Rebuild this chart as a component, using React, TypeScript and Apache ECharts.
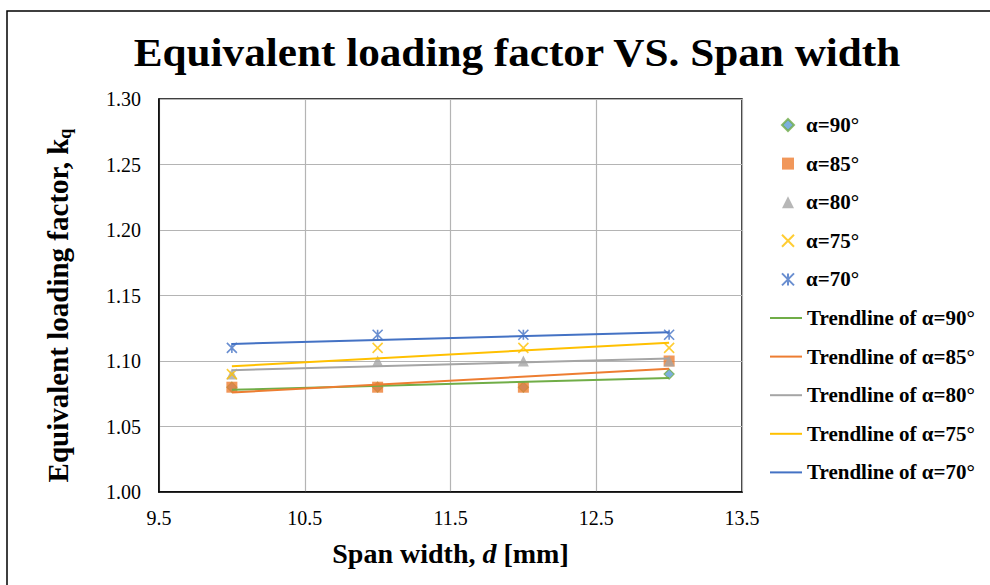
import React, { useEffect, useRef } from "react";
import * as echarts from "echarts";

const spanWidths = [10, 11, 12, 13];
const alpha90 = [1.08, 1.08, 1.08, 1.09];
const alpha85 = [1.08, 1.08, 1.08, 1.1];
const alpha80 = [1.09, 1.1, 1.1, 1.1];
const alpha75 = [1.09, 1.11, 1.11, 1.11];
const alpha70 = [1.11, 1.12, 1.12, 1.12];
const seriesNames = ["α=90°", "α=85°", "α=80°", "α=75°", "α=70°"];
const trendNames = [
  "Trendline of α=90°",
  "Trendline of α=85°",
  "Trendline of α=80°",
  "Trendline of α=75°",
  "Trendline of α=70°",
];

const FONT = "'Liberation Serif', 'Times New Roman', serif";

function linearFit(xs: number[], ys: number[]) {
  const n = xs.length;
  const mx = xs.reduce((a, b) => a + b, 0) / n;
  const my = ys.reduce((a, b) => a + b, 0) / n;
  let sxy = 0;
  let sxx = 0;
  for (let i = 0; i < n; i++) {
    sxy += (xs[i] - mx) * (ys[i] - my);
    sxx += (xs[i] - mx) * (xs[i] - mx);
  }
  const slope = sxy / sxx;
  const intercept = my - slope * mx;
  const x0 = xs[0];
  const x1 = xs[n - 1];
  return [
    [x0, intercept + slope * x0],
    [x1, intercept + slope * x1],
  ];
}

export default function App() {
  const ref = useRef<HTMLDivElement>(null);
  useEffect(() => {
    if (!ref.current) return;
    const chart = echarts.init(ref.current, null, { renderer: "svg" });
    const values = [alpha90, alpha85, alpha80, alpha75, alpha70];
    const pts = (ys: number[]) => spanWidths.map((x, i) => [x, ys[i]]);
    const trendColors = ["#70AD47", "#ED7D31", "#A5A5A5", "#FFC000", "#4472C4"];

    const scatterDefs = [
      { symbol: "diamond", size: 10, itemStyle: { color: "#5B9BD5", borderColor: "#70AD47", borderWidth: 1.2 } },
      { symbol: "rect", size: 11, itemStyle: { color: "#ED7D31" } },
      { symbol: "triangle", size: 11, itemStyle: { color: "#A5A5A5" } },
      {
        symbol: "path://M0,0L10,10M10,0L0,10",
        size: 10,
        itemStyle: { color: "rgba(0,0,0,0)", borderColor: "#FFC000", borderWidth: 1.6 },
      },
      {
        symbol: "path://M0,0L10,10M10,0L0,10M5,0L5,10",
        size: 10,
        itemStyle: { color: "rgba(0,0,0,0)", borderColor: "#4472C4", borderWidth: 1.6 },
      },
    ];

    const series: any[] = [];
    values.forEach((ys, i) => {
      series.push({
        name: seriesNames[i],
        type: "scatter",
        data: pts(ys),
        symbol: scatterDefs[i].symbol,
        symbolSize: scatterDefs[i].size,
        itemStyle: scatterDefs[i].itemStyle,
        z: 2,
      });
    });
    values.forEach((ys, i) => {
      series.push({
        name: trendNames[i],
        type: "line",
        data: linearFit(spanWidths, ys),
        symbol: "none",
        lineStyle: { color: trendColors[i], width: 2 },
        itemStyle: { color: trendColors[i] },
        z: 3,
      });
    });

    const legendText = { fontFamily: FONT, fontWeight: "bold", fontSize: 21, color: "#000", lineHeight: 22 };

    chart.setOption({
      animation: false,
      backgroundColor: "#fff",
      graphic: [
        {
          type: "rect",
          shape: { x: 7, y: 11, width: 1000, height: 600 },
          style: { fill: "none", stroke: "#000", lineWidth: 1.5 },
          silent: true,
        },
        {
          type: "text",
          x: 517,
          y: 53,
          scaleX: 1.08,
          style: {
            text: "Equivalent loading factor VS. Span width",
            font: `bold 40px ${FONT}`,
            fill: "#000",
            align: "center",
            verticalAlign: "middle",
          },
        },
      ],
      grid: { left: 159, top: 99, right: 248, bottom: 93, show: true, borderColor: "#000", borderWidth: 1.5 },
      legend: [
        {
          orient: "vertical",
          left: 776,
          top: 109,
          itemWidth: 12,
          itemHeight: 12,
          itemGap: 16.6,
          data: seriesNames,
          textStyle: { ...legendText, padding: [0, 0, 0, 7] },
        },
        {
          orient: "vertical",
          left: 765,
          top: 302,
          itemWidth: 32,
          itemHeight: 2,
          itemGap: 16.6,
          data: trendNames.map((n) => ({ name: n, icon: "rect" })),
          textStyle: legendText,
        },
      ],
      xAxis: {
        type: "value",
        min: 9.5,
        max: 13.5,
        interval: 1,
        name: "{b|Span width, }{i|d}{b| [mm]}",
        nameLocation: "middle",
        nameGap: 61,
        nameTextStyle: {
          verticalAlign: "middle",
          rich: {
            b: { fontFamily: FONT, fontWeight: "bold", fontSize: 28, color: "#000" },
            i: { fontFamily: FONT, fontWeight: "bold", fontStyle: "italic", fontSize: 28, color: "#000" },
          },
        },
        axisLine: { show: true, lineStyle: { color: "#000", width: 1.5 } },
        axisTick: { show: false },
        axisLabel: {
          margin: 16,
          fontFamily: FONT,
          fontSize: 20,
          color: "#000",
          formatter: (v: number) => v.toFixed(1),
        },
        splitLine: { show: true, lineStyle: { color: "#B4B4B4", width: 1.2 } },
      },
      yAxis: {
        type: "value",
        min: 1,
        max: 1.3,
        interval: 0.05,
        name: "{b|Equivalent loading factor, k}{s|q}",
        nameLocation: "middle",
        nameRotate: 90,
        nameGap: 101,
        nameTextStyle: {
          verticalAlign: "middle",
          padding: [0, 20, 0, 0],
          rich: {
            b: { fontFamily: FONT, fontWeight: "bold", fontSize: 29, color: "#000", lineHeight: 32 },
            s: {
              fontFamily: FONT,
              fontWeight: "bold",
              fontSize: 18,
              color: "#000",
              lineHeight: 32,
              verticalAlign: "bottom",
              padding: [10, 0, 0, 0],
            },
          },
        },
        axisLine: { show: true, lineStyle: { color: "#000", width: 1.5 } },
        axisTick: { show: false },
        axisLabel: {
          margin: 18,
          fontFamily: FONT,
          fontSize: 20,
          color: "#000",
          formatter: (v: number) => v.toFixed(2),
        },
        splitLine: { show: true, lineStyle: { color: "#B4B4B4", width: 1.2 } },
      },
      series,
    });
    return () => chart.dispose();
  }, []);
  return (
    <div
      ref={ref}
      style={{ position: "fixed", left: 0, top: 0, width: 990, height: 585, background: "#fff" }}
    />
  );
}
